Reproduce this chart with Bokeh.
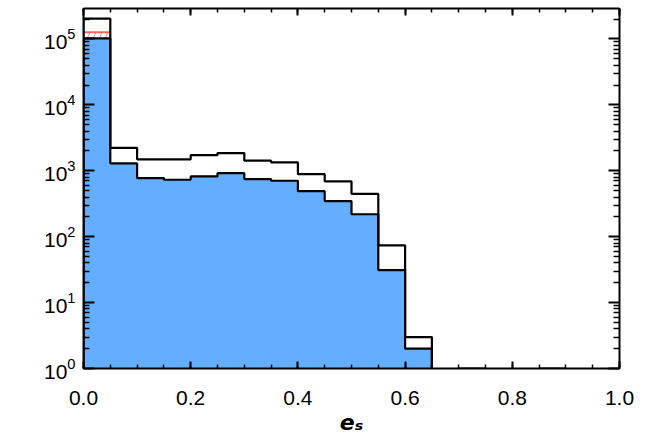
import numpy as np
from bokeh.plotting import figure
from bokeh.models import (Range1d, FixedTicker, LinearAxis, LogAxis,
                          PrintfTickFormatter, CustomJSTickFormatter)
from bokeh.embed import file_html
from bokeh.resources import INLINE

# ---- data -------------------------------------------------------------
bin_edges = [0.00, 0.05, 0.10, 0.15, 0.20, 0.25, 0.30, 0.35, 0.40, 0.45,
             0.50, 0.55, 0.60, 0.65, 0.70, 0.75, 0.80, 0.85, 0.90, 0.95, 1.00]
# total sample (open histogram)
total_counts = [2.04e5, 2230, 1490, 1490, 1730, 1855, 1425, 1345, 889, 692,
                446, 74, 3, 0, 1, 0, 0, 1, 0, 0]
# sub-sample (blue filled histogram)
sub_counts = [1.02e5, 1300, 775, 731, 821, 920, 749, 706, 490, 347,
              219, 31, 2, 0, 0, 0, 0, 0, 0, 0]
# red hatched sample (visible only in first bin)
red_left = [0.00]
red_right = [0.05]
red_counts = [1.26e5]

x_ticks = [0.0, 0.2, 0.4, 0.6, 0.8, 1.0]
y_ticks = [1, 10, 100, 1000, 10000, 100000]

FLOOR = 0.5  # below the visible range: zero-count bins

def step_xy(edges, counts):
    e = np.asarray(edges, float)
    c = np.where(np.asarray(counts, float) > 0, counts, FLOOR)
    xs = np.repeat(e, 2)
    ys = np.concatenate([[FLOOR], np.repeat(c, 2), [FLOOR]])
    return xs, ys

p = figure(width=660, height=437, output_backend="svg", toolbar_location=None,
           x_range=Range1d(0, 1), y_range=Range1d(1, 2.9e5), y_axis_type="log",
           min_border_left=83, min_border_right=41, min_border_top=8, min_border_bottom=10,
           background_fill_color="white", border_fill_color="white")
p.grid.visible = False
p.outline_line_color = None

# red hatched bin
p.quad(left=red_left, right=red_right, bottom=[FLOOR], top=red_counts,
       fill_color=None, line_color=None, hatch_pattern="/", hatch_color="#ff8a8a",
       hatch_scale=12, hatch_weight=1)
rx, ry = step_xy([red_left[0], red_right[0]], red_counts)
p.line(rx[1:-1], ry[1:-1], line_color="#ff6464", line_width=2)

# blue filled sub-sample
sub_fill = [c if c > 0 else FLOOR for c in sub_counts]
p.varea_step(x=bin_edges, y1=[FLOOR] * len(bin_edges), y2=sub_fill + [sub_fill[-1]],
             step_mode="after", fill_color="#63aeff")

sx, sy = step_xy(bin_edges, sub_counts)
p.line(sx, sy, line_color="black", line_width=2.2)
tx, ty = step_xy(bin_edges, total_counts)
p.line(tx, ty, line_color="black", line_width=2.2)

# ---- axes ---------------------------------------------------------------
FONT = "Liberation Sans"
xt = FixedTicker(ticks=x_ticks,
                 minor_ticks=list(np.round(np.arange(x_ticks[0], x_ticks[-1] + 1e-9, 0.05), 2)))
yt = FixedTicker(ticks=y_ticks,
                 minor_ticks=[m * t for t in y_ticks for m in range(2, 10)])

def style(ax, ticker, major, minor, labels):
    ax.ticker = ticker
    ax.axis_line_width = 2
    ax.axis_line_color = "black"
    ax.major_tick_in = major
    ax.major_tick_out = 0
    ax.minor_tick_in = minor
    ax.minor_tick_out = 0
    ax.major_tick_line_width = 2
    ax.minor_tick_line_width = 1.5
    ax.major_tick_line_color = "black"
    ax.minor_tick_line_color = "black"
    if labels:
        ax.major_label_text_font = FONT
        ax.major_label_text_font_size = "21px"
        ax.major_label_text_color = "black"
    else:
        ax.formatter = CustomJSTickFormatter(code="return '';")
        ax.major_label_standoff = 0

xa = p.xaxis[0]
style(xa, xt, 7, 4, True)
xa.formatter = PrintfTickFormatter(format="%.1f")
xa.major_label_standoff = 22
xa.axis_label = "eₛ"
xa.axis_label_text_font = "DejaVu Sans"
xa.axis_label_text_font_style = "bold italic"
xa.axis_label_text_font_size = "22px"
xa.axis_label_text_color = "black"
xa.axis_label_standoff = 2

ya = p.yaxis[0]
style(ya, yt, 11, 6, True)
ya.major_label_standoff = 8

top = LinearAxis()
style(top, xt, 7, 4, False)
p.add_layout(top, "above")
right = LogAxis()
style(right, yt, 11, 6, False)
p.add_layout(right, "right")

open("out.html", "w").write(file_html(p, INLINE))
